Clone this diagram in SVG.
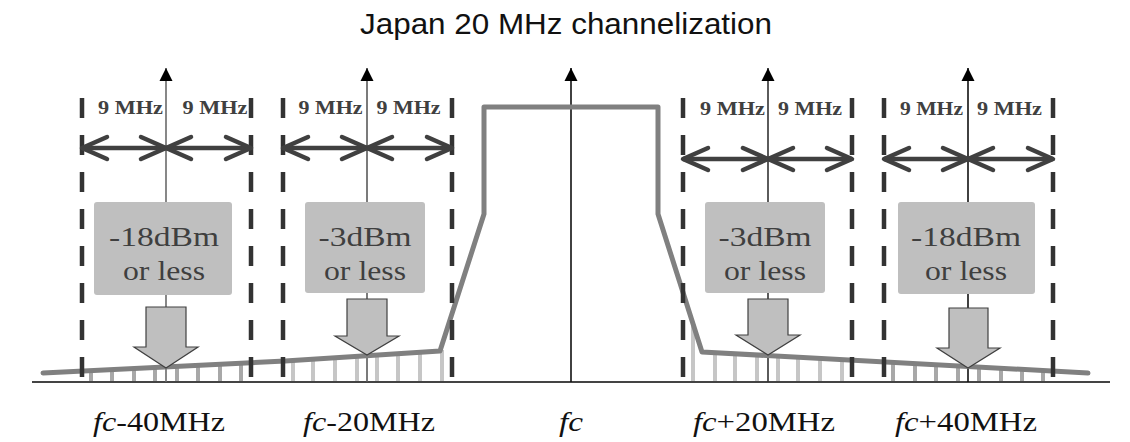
<svg xmlns="http://www.w3.org/2000/svg" width="1130" height="442" viewBox="0 0 1130 442">
<style>
.title{font-family:"Liberation Sans",Arial,sans-serif;font-size:29px;fill:#111;text-anchor:middle}
.mhz{font-family:"Liberation Serif","Times New Roman",serif;font-weight:bold;font-size:19px;fill:#404040;text-anchor:middle}
.box{fill:#bfbfbf}
.btxt{font-family:"Liberation Serif","Times New Roman",serif;font-size:28px;fill:#3f3f3f;text-anchor:middle}
.lbl{font-family:"Liberation Serif","Times New Roman",serif;font-size:28px;fill:#111;text-anchor:middle}
.dash{stroke:#333;stroke-width:4.5;stroke-dasharray:20 17;fill:none}
.dbl{stroke:#404040;stroke-width:4.5;fill:none;marker-start:url(#chev);marker-end:url(#chev)}
.down{fill:#bfbfbf;stroke:#404040;stroke-width:1.2}
.hA line{stroke:#a8a8a8;stroke-width:4}
.hB line{stroke:#c6c6c6;stroke-width:4}
.cl{stroke:#555;stroke-width:1.6;marker-end:url(#tri)}
</style>
<defs>
<marker id="chev" markerUnits="userSpaceOnUse" markerWidth="40" markerHeight="30" viewBox="-30 -15 40 30" refX="0" refY="0" orient="auto-start-reverse">
<path d="M-25,-11 L0,0 L-25,11" fill="none" stroke="#404040" stroke-width="4.5" stroke-linecap="round" stroke-linejoin="round"/>
</marker>
<marker id="tri" markerUnits="userSpaceOnUse" markerWidth="20" markerHeight="20" viewBox="-15 -10 20 20" refX="0" refY="0" orient="auto">
<path d="M0,0 L-13,-6.5 L-13,6.5 Z" fill="#000"/>
</marker>
</defs>

<text class="title" x="566" y="34" textLength="412" lengthAdjust="spacingAndGlyphs">Japan 20 MHz channelization</text>

<g id="hatches">
<g class="hA">
<line x1="91" y1="370" x2="91" y2="382"/><line x1="112" y1="369" x2="112" y2="382"/>
<line x1="134" y1="368" x2="134" y2="382"/><line x1="155" y1="367" x2="155" y2="382"/>
<line x1="177" y1="366" x2="177" y2="382"/><line x1="198" y1="365" x2="198" y2="382"/>
<line x1="220" y1="364" x2="220" y2="382"/><line x1="241" y1="363" x2="241" y2="382"/>
<line x1="893" y1="362" x2="893" y2="382"/><line x1="915" y1="363" x2="915" y2="382"/>
<line x1="936" y1="364" x2="936" y2="382"/><line x1="958" y1="365" x2="958" y2="382"/>
<line x1="979" y1="367" x2="979" y2="382"/><line x1="1001" y1="368" x2="1001" y2="382"/>
<line x1="1022" y1="369" x2="1022" y2="382"/><line x1="1043" y1="370" x2="1043" y2="382"/>
</g>
<g class="hB">
<line x1="293" y1="360" x2="293" y2="382"/><line x1="313" y1="359" x2="313" y2="382"/>
<line x1="335" y1="357" x2="335" y2="382"/><line x1="357" y1="356" x2="357" y2="382"/>
<line x1="377" y1="355" x2="377" y2="382"/><line x1="398" y1="353" x2="398" y2="382"/>
<line x1="420" y1="352" x2="420" y2="382"/><line x1="442" y1="350" x2="442" y2="382"/>
<line x1="693" y1="324" x2="693" y2="382"/><line x1="715" y1="352" x2="715" y2="382"/>
<line x1="735" y1="353" x2="735" y2="382"/><line x1="757" y1="355" x2="757" y2="382"/>
<line x1="778" y1="356" x2="778" y2="382"/><line x1="798" y1="357" x2="798" y2="382"/>
<line x1="820" y1="358" x2="820" y2="382"/><line x1="842" y1="359" x2="842" y2="382"/>
</g>
</g>

<g id="connectors">
<line id="axis" x1="32" y1="382" x2="1110" y2="382" stroke="#444" stroke-width="2"/>
<line class="cl" x1="166" y1="382" x2="166" y2="68" style="stroke:#6a6a6a"/>
<line class="cl" x1="367" y1="382" x2="367" y2="68" style="stroke:#5a5a5a"/>
<line class="cl" x1="571" y1="382" x2="571" y2="68" style="stroke:#111"/>
<line class="cl" x1="768" y1="382" x2="768" y2="68" style="stroke:#333"/>
<line class="cl" x1="968" y1="382" x2="968" y2="68" style="stroke:#111"/>
<polyline id="mask" points="43,373 285,361 440,351 484,214 484,107 658,107 658,214 702,352 1088,373" fill="none" stroke="#808080" stroke-width="5" stroke-linejoin="round" stroke-linecap="round"/>
</g>

<g id="ch-m40">
<line class="dash" x1="82" y1="98" x2="82" y2="377"/>
<line class="dash" x1="251" y1="98" x2="251" y2="377"/>
<line class="dbl" x1="82" y1="148" x2="166" y2="148"/>
<line class="dbl" x1="251" y1="148" x2="166" y2="148"/>
<text class="mhz" x="130.5" y="114" textLength="65" lengthAdjust="spacingAndGlyphs">9 MHz</text>
<text class="mhz" x="215" y="114" textLength="65" lengthAdjust="spacingAndGlyphs">9 MHz</text>
<rect class="box" x="94" y="202" width="138" height="93" rx="3"/>
<text class="btxt" x="164" y="246" textLength="110" lengthAdjust="spacingAndGlyphs">-18dBm</text>
<text class="btxt" x="164" y="280" textLength="82" lengthAdjust="spacingAndGlyphs">or less</text>
<path class="down" d="M146,307 H186 V347 H198 L166,368 L134,347 H146 Z"/>
<text class="lbl" x="159" y="431" textLength="132" lengthAdjust="spacingAndGlyphs"><tspan font-style="italic">fc</tspan>-40MHz</text>
</g>

<g id="ch-m20">
<line class="dash" x1="283" y1="98" x2="283" y2="377"/>
<line class="dash" x1="452" y1="98" x2="452" y2="377"/>
<line class="dbl" x1="283" y1="148" x2="367" y2="148"/>
<line class="dbl" x1="452" y1="148" x2="367" y2="148"/>
<text class="mhz" x="330.5" y="114" textLength="64" lengthAdjust="spacingAndGlyphs">9 MHz</text>
<text class="mhz" x="408.5" y="114" textLength="64" lengthAdjust="spacingAndGlyphs">9 MHz</text>
<rect class="box" x="305" y="202" width="120" height="91" rx="3"/>
<text class="btxt" x="365" y="246" textLength="93" lengthAdjust="spacingAndGlyphs">-3dBm</text>
<text class="btxt" x="365" y="280" textLength="82" lengthAdjust="spacingAndGlyphs">or less</text>
<path class="down" d="M347,299 H387 V336 H399 L367,355 L335,336 H347 Z"/>
<text class="lbl" x="369" y="431" textLength="132" lengthAdjust="spacingAndGlyphs"><tspan font-style="italic">fc</tspan>-20MHz</text>
</g>

<g id="ch-center">
<text class="lbl" x="571" y="431" textLength="24" lengthAdjust="spacingAndGlyphs"><tspan font-style="italic">fc</tspan></text>
</g>

<g id="ch-p20">
<line class="dash" x1="683" y1="98" x2="683" y2="377"/>
<line class="dash" x1="852" y1="98" x2="852" y2="377"/>
<line class="dbl" x1="683" y1="159" x2="768" y2="159"/>
<line class="dbl" x1="852" y1="159" x2="768" y2="159"/>
<text class="mhz" x="732.5" y="115" textLength="65" lengthAdjust="spacingAndGlyphs">9 MHz</text>
<text class="mhz" x="810" y="115" textLength="64" lengthAdjust="spacingAndGlyphs">9 MHz</text>
<rect class="box" x="705" y="202" width="120" height="91" rx="3"/>
<text class="btxt" x="765" y="246" textLength="93" lengthAdjust="spacingAndGlyphs">-3dBm</text>
<text class="btxt" x="765" y="280" textLength="82" lengthAdjust="spacingAndGlyphs">or less</text>
<path class="down" d="M748,299 H788 V335 H800 L768,355 L736,335 H748 Z"/>
<text class="lbl" x="764" y="431" textLength="142" lengthAdjust="spacingAndGlyphs"><tspan font-style="italic">fc</tspan>+20MHz</text>
</g>

<g id="ch-p40">
<line class="dash" x1="884" y1="98" x2="884" y2="377"/>
<line class="dash" x1="1053" y1="98" x2="1053" y2="377"/>
<line class="dbl" x1="884" y1="159" x2="968" y2="159"/>
<line class="dbl" x1="1053" y1="159" x2="968" y2="159"/>
<text class="mhz" x="931.5" y="115" textLength="63" lengthAdjust="spacingAndGlyphs">9 MHz</text>
<text class="mhz" x="1009.5" y="115" textLength="65" lengthAdjust="spacingAndGlyphs">9 MHz</text>
<rect class="box" x="898" y="202" width="137" height="92" rx="3"/>
<text class="btxt" x="966" y="246" textLength="110" lengthAdjust="spacingAndGlyphs">-18dBm</text>
<text class="btxt" x="966" y="280" textLength="82" lengthAdjust="spacingAndGlyphs">or less</text>
<path class="down" d="M949,308 H988 V348 H1000 L968,368 L937,348 H949 Z"/>
<text class="lbl" x="966" y="431" textLength="142" lengthAdjust="spacingAndGlyphs"><tspan font-style="italic">fc</tspan>+40MHz</text>
</g>
</svg>
